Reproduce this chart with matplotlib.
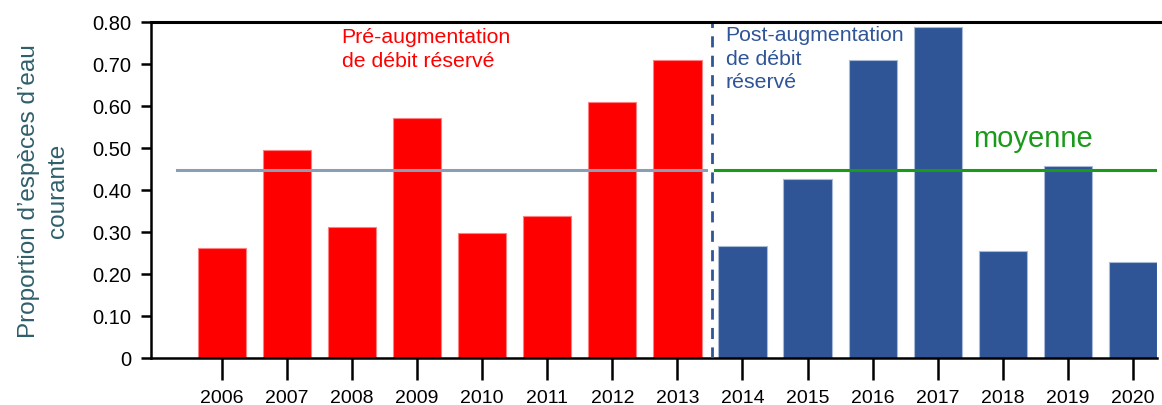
import matplotlib.pyplot as plt
from matplotlib.lines import Line2D

years = ["2006", "2007", "2008", "2009", "2010", "2011", "2012", "2013",
         "2014", "2015", "2016", "2017", "2018", "2019", "2020"]
values = [0.262, 0.495, 0.312, 0.571, 0.298, 0.338, 0.610, 0.710,
          0.267, 0.426, 0.710, 0.788, 0.255, 0.457, 0.229]
n_pre = 8  # 2006-2013 before the flow increase
mean_value = 0.448
yticks = [0, 0.1, 0.2, 0.3, 0.4, 0.5, 0.6, 0.7, 0.8]
ytick_labels = ["0", "0.10", "0.20", "0.30", "0.40", "0.50", "0.60", "0.70", "0.80"]

red = "#FF0000"
blue = "#2F5597"
green = "#1A9A1A"
grey_blue = "#8C9EB6"

plt.rcParams['font.family'] = ['Liberation Sans', 'DejaVu Sans']

fig = plt.figure(figsize=(11.62, 4.06), dpi=100)
ax = fig.add_axes([151 / 1162, 1 - 359 / 406, (1157 - 151) / 1162, (359 - 23) / 406])

x = list(range(len(years)))
colors = [red] * n_pre + [blue] * (len(years) - n_pre)
edges = ["#FF8080"] * n_pre + ["#A9BAD6"] * (len(years) - n_pre)
ax.bar(x, values, width=0.74, color=colors, edgecolor=edges, linewidth=0.8, zorder=2)

# mean lines before / after
split = n_pre - 0.47
ax.plot([-0.69, split - 0.09], [mean_value, mean_value], color=grey_blue, lw=2.2, zorder=3)
ax.plot([split + 0.05, 14.6], [mean_value, mean_value], color=green, lw=2.2, zorder=3)
ax.axvline(split, color=blue, lw=2, linestyle=(0, (4, 3)), zorder=4)

ax.set_xlim(-1.09, 14.37)
ax.set_ylim(0, 0.8)
ax.set_xticks(x)
ax.set_xticklabels(years, fontsize=14)
ax.set_yticks(yticks)
ax.set_yticklabels(ytick_labels, fontsize=14.5)
ax.tick_params(axis='x', length=16, width=1.8, pad=6)
ax.tick_params(axis='y', length=7, width=1.8, pad=7)

ax.spines['right'].set_visible(False)
ax.spines['left'].set_linewidth(1.8)
ax.spines['bottom'].set_linewidth(1.8)
ax.spines['top'].set_visible(False)
fig.add_artist(Line2D([151 / 1162, 1.0], [1 - 23 / 406, 1 - 23 / 406],
                      color='black', lw=2.2))

ax.set_ylabel("Proportion d\u2019espèces d\u2019eau\ncourante", fontsize=17.5,
              color="#2F5F6B", labelpad=17, linespacing=1.4)

ax.text(1.84, 0.787, "Pré-augmentation\nde débit réservé", color=red,
        fontsize=15.3, va='top', ha='left', linespacing=1.3)
ax.text(7.74, 0.792, "Post-augmentation\nde débit\nréservé", color=blue,
        fontsize=15.3, va='top', ha='left', linespacing=1.3)
ax.text(11.54, 0.505, "moyenne", color=green, fontsize=21, va='baseline', ha='left')

fig.savefig("out.png", dpi=100)
